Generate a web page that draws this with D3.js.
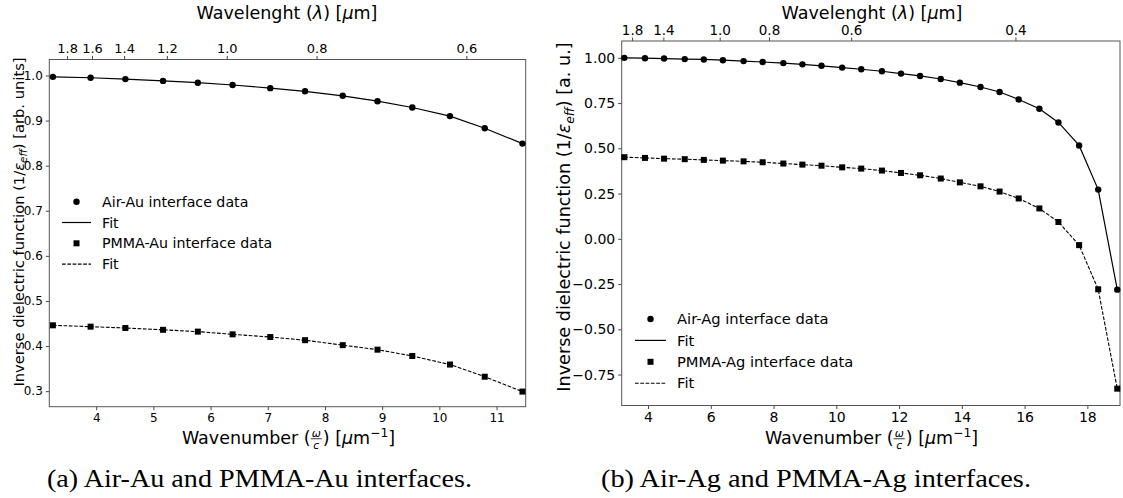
<!DOCTYPE html>
<html><head><meta charset="utf-8">
<script src="https://cdn.jsdelivr.net/npm/d3@7"></script>
<style>
body{margin:0;background:#fff}
svg text{font-family:"DejaVu Sans";fill:#000}
</style></head>
<body>
<svg id="chart" width="1123" height="498"></svg>
<script>
// ---------- data ----------
const wavenumberAu = [3.243, 3.902, 4.510, 5.169, 5.777, 6.385, 7.044, 7.652, 8.311, 8.919, 9.527, 10.186, 10.794, 11.453];
const airAu  = [0.997, 0.995, 0.992, 0.988, 0.984, 0.979, 0.972, 0.965, 0.955, 0.943, 0.929, 0.910, 0.883, 0.849];
const pmmaAu = [0.446, 0.443, 0.440, 0.436, 0.432, 0.426, 0.420, 0.413, 0.402, 0.392, 0.378, 0.359, 0.332, 0.299];

const wavenumberAg = [3.243, 3.902, 4.510, 5.169, 5.777, 6.385, 7.044, 7.652, 8.311, 8.919, 9.527, 10.186, 10.794, 11.453,
                      12.061, 12.669, 13.328, 13.936, 14.595, 15.203, 15.811, 16.470, 17.078, 17.737, 18.345, 18.953];
const airAg  = [1.000, 0.998, 0.996, 0.993, 0.991, 0.987, 0.982, 0.977, 0.971, 0.964, 0.956, 0.946, 0.937, 0.926,
                0.913, 0.900, 0.883, 0.863, 0.839, 0.811, 0.770, 0.719, 0.643, 0.516, 0.272, -0.281];
const pmmaAg = [0.451, 0.447, 0.443, 0.440, 0.436, 0.432, 0.428, 0.423, 0.416, 0.410, 0.404, 0.395, 0.388, 0.377,
                0.364, 0.351, 0.333, 0.312, 0.290, 0.261, 0.223, 0.168, 0.093, -0.035, -0.279, -0.828];

const xTicksAu = [4, 5, 6, 7, 8, 9, 10, 11];
const yTicksAu = [0.3, 0.4, 0.5, 0.6, 0.7, 0.8, 0.9, 1.0];
const lambdaTicksAu = [1.8, 1.6, 1.4, 1.2, 1.0, 0.8, 0.6];
const xTicksAg = [4, 6, 8, 10, 12, 14, 16, 18];
const yTicksAg = [-0.75, -0.5, -0.25, 0, 0.25, 0.5, 0.75, 1.0];
const lambdaTicksAg = [1.8, 1.4, 1.0, 0.8, 0.6, 0.4];

const legendAu = ["Air-Au interface data", "Fit", "PMMA-Au interface data", "Fit"];
const legendAg = ["Air-Ag interface data", "Fit", "PMMA-Ag interface data", "Fit"];
const captions = ["(a) Air-Au and PMMA-Au interfaces.", "(b) Air-Ag and PMMA-Ag interfaces."];

// ---------- drawing ----------
const svg = d3.select("#chart");

function richText(g, x, y, parts, size, anchor, rotate) {
  const grp = g.append("g");
  const t = grp.append("g");
  let cx = 0;
  parts.forEach(p => {
    const fs = size * (p.scale || 1);
    if (p.frac) {
      const f1 = t.append("text").attr("font-size", fs).attr("font-style","italic").attr("x", cx).attr("y", -size*0.42).text(p.frac[0]);
      const f2 = t.append("text").attr("font-size", fs).attr("font-style","italic").attr("x", cx).attr("y", size*0.30).text(p.frac[1]);
      const w1 = f1.node().getComputedTextLength(), w2 = f2.node().getComputedTextLength();
      const w = Math.max(w1, w2) + 2;
      f1.attr("x", cx + (w - w1)/2); f2.attr("x", cx + (w - w2)/2);
      t.append("line").attr("x1", cx).attr("x2", cx + w).attr("y1", -size*0.3).attr("y2", -size*0.3).attr("stroke","#000").attr("stroke-width",0.8);
      cx += w + 1;
      return;
    }
    const el = t.append("text").attr("font-size", fs).attr("x", cx).attr("y", p.dy || 0)
      .style("white-space","pre").text(p.t);
    if (p.italic) el.attr("font-style","italic");
    cx += el.node().getComputedTextLength();
  });
  let ox = anchor === "middle" ? -cx/2 : 0;
  t.attr("transform", `translate(${ox},0)`);
  grp.attr("transform", `translate(${x},${y})` + (rotate ? ` rotate(${rotate})` : ""));
  return cx;
}

function panel(cfg) {
  const x = d3.scaleLinear().domain(cfg.xDomain).range([cfg.left, cfg.right]);
  const y = d3.scaleLinear().domain(cfg.yDomain).range([cfg.bottom, cfg.top]);
  const g = svg.append("g");

  const ax = g.append("g").attr("transform", `translate(0,${cfg.bottom})`)
    .call(d3.axisBottom(x).tickValues(cfg.xTicks).tickSize(3.5).tickPadding(3).tickFormat(d3.format("d")));
  ax.selectAll("text").attr("font-size", cfg.tickFs);
  const ay = g.append("g").attr("transform", `translate(${cfg.left},0)`)
    .call(d3.axisLeft(y).tickValues(cfg.yTicks).tickSize(3.5).tickPadding(3).tickFormat(d => cfg.yFmt(d).replace("-", "\u2212")));
  ay.selectAll("text").attr("font-size", cfg.tickFs);
  const at = g.append("g").attr("transform", `translate(0,${cfg.top})`)
    .call(d3.axisTop(x).tickValues(cfg.lambdaTicks.map(l => 2*Math.PI/l)).tickSize(3.5).tickPadding(3)
      .tickFormat((d,i) => d3.format(".1f")(cfg.lambdaTicks[i])));
  at.selectAll("text").attr("font-size", cfg.topFs);
  [ax, ay, at].forEach(a => { a.select(".domain").remove(); a.selectAll("line").attr("stroke","#333").attr("stroke-width",0.9); });

  g.append("rect").attr("x", cfg.left).attr("y", cfg.top).attr("width", cfg.right - cfg.left).attr("height", cfg.bottom - cfg.top)
    .attr("fill","none").attr("stroke","#555").attr("stroke-width",1);

  const line = d3.line().x(d => x(d[0])).y(d => y(d[1]));
  const s1 = cfg.xs.map((k,i) => [k, cfg.s1[i]]);
  const s2 = cfg.xs.map((k,i) => [k, cfg.s2[i]]);
  g.append("path").datum(s1).attr("d", line).attr("fill","none").attr("stroke","#000").attr("stroke-width",1.2);
  g.append("path").datum(s2).attr("d", line).attr("fill","none").attr("stroke","#000").attr("stroke-width",1.1).attr("stroke-dasharray","3.7,1.6");
  g.selectAll(".c").data(s1).enter().append("circle").attr("cx", d => x(d[0])).attr("cy", d => y(d[1])).attr("r", 3.2).attr("fill","#000");
  g.selectAll(".s").data(s2).enter().append("rect").attr("x", d => x(d[0]) - 3).attr("y", d => y(d[1]) - 3).attr("width", 6).attr("height", 6).attr("fill","#000");

  const L = cfg.legend;
  cfg.legendLabels.forEach((lab, i) => {
    const yy = L.y0 + i * L.dy;
    if (i === 0) g.append("circle").attr("cx", (L.x1 + L.x2)/2).attr("cy", yy).attr("r", 3.2).attr("fill","#000");
    if (i === 2) g.append("rect").attr("x", (L.x1 + L.x2)/2 - 3).attr("y", yy - 3).attr("width",6).attr("height",6).attr("fill","#000");
    if (i === 1) g.append("line").attr("x1", L.x1).attr("x2", L.x2).attr("y1", yy).attr("y2", yy).attr("stroke","#000").attr("stroke-width",1.2);
    if (i === 3) g.append("line").attr("x1", L.x1).attr("x2", L.x2).attr("y1", yy).attr("y2", yy).attr("stroke","#000").attr("stroke-width",1.1).attr("stroke-dasharray","3.7,1.6");
    g.append("text").attr("x", L.tx).attr("y", yy).attr("dy","0.36em").attr("font-size", L.fs).text(lab);
  });

  richText(g, cfg.titleX, cfg.titleY, [
    {t:"Wavelenght ("}, {t:"\u03bb", italic:true}, {t:") ["}, {t:"\u03bc", italic:true}, {t:"m]"}
  ], 17.5, "middle");

  richText(g, cfg.xlabX, cfg.xlabY, [
    {t:"Wavenumber ("}, {frac:["\u03c9","c"], scale:0.62}, {t:") ["}, {t:"\u03bc", italic:true}, {t:"m"},
    {t:"\u22121", scale:0.7, dy:-7}, {t:"]"}
  ], 17.5, "middle");

  richText(g, cfg.ylabX, cfg.ylabY, [
    {t:"Inverse dielectric function (1/"}, {t:"\u03b5", italic:true}, {t:"eff", italic:true, scale:0.7, dy:3.5},
    {t:") " + cfg.unit}
  ], cfg.ylabFs, "middle", -90);

  svg.append("text").attr("x", cfg.capX).attr("y", cfg.capY).attr("text-anchor","middle")
    .style("font-family","'Liberation Serif'")
    .attr("font-size", 26).attr("textLength", cfg.capW).attr("lengthAdjust","spacingAndGlyphs").text(cfg.caption);
}

panel({
  xs: wavenumberAu, s1: airAu, s2: pmmaAu,
  xDomain: [3.18, 11.51], yDomain: [0.2655, 1.0355],
  left: 49.3, right: 525.7, top: 59.5, bottom: 406.7,
  xTicks: xTicksAu, yTicks: yTicksAu, lambdaTicks: lambdaTicksAu, yFmt: d3.format(".1f"),
  tickFs: 12, topFs: 13,
  legend: {y0: 201.7, dy: 20.8, x1: 62, x2: 91, tx: 102, fs: 14.2},
  legendLabels: legendAu,
  titleX: 287, titleY: 19, xlabX: 288.5, xlabY: 444, ylabX: 23.5, ylabY: 222, ylabFs: 14.7, unit: "[arb. units]",
  caption: captions[0], capX: 259.5, capY: 487, capW: 425
});

panel({
  xs: wavenumberAg, s1: airAg, s2: pmmaAg,
  xDomain: [3.16, 19.04], yDomain: [-0.921, 1.093],
  left: 621.7, right: 1120, top: 41, bottom: 405.5,
  xTicks: xTicksAg, yTicks: yTicksAg, lambdaTicks: lambdaTicksAg, yFmt: d3.format(".2f"),
  tickFs: 14, topFs: 13.5,
  legend: {y0: 319, dy: 21.4, x1: 635, x2: 666, tx: 677, fs: 14.7},
  legendLabels: legendAg,
  titleX: 872, titleY: 18.5, xlabX: 871.5, xlabY: 444, ylabX: 570, ylabY: 217, ylabFs: 17.6, unit: "[a. u.]",
  caption: captions[1], capX: 816, capY: 487, capW: 430
});
</script>
</body></html>
